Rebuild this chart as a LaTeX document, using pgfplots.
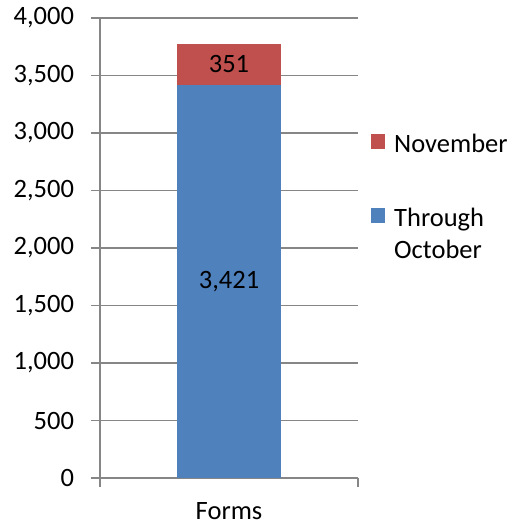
\documentclass[border=0pt]{standalone}
\usepackage{pgfplots}
\pgfplotsset{compat=1.18}
\usepackage{fontspec}
\setmainfont{Carlito}
\definecolor{cblue}{HTML}{4F81BD}
\definecolor{cred}{HTML}{C0504D}
\definecolor{cgrid}{HTML}{868686}
\newcommand{\cf}{\fontsize{26.5}{32}\selectfont}
\begin{document}
\cf
\begin{tikzpicture}
\begin{axis}[
  scale only axis,
  width=258pt, height=460pt,
  xmin=-1, xmax=1, ymin=0, ymax=4000,
  ybar stacked, bar width=103pt,
  axis x line*=bottom, axis y line*=left,
  axis line style={cgrid, line width=1.2pt, -},
  ytick={0,500,...,4000},
  xtick={-1,1}, xticklabels={},
  extra x ticks={0}, extra x tick labels={Forms},
  extra x tick style={major tick length=0pt, grid=none, xticklabel style={yshift=-15pt}},
  ymajorgrids, grid style={cgrid, line width=1.2pt},
  tick style={cgrid, line width=1.2pt},
  major tick length=9pt, tick align=outside,
  /pgf/number format/.cd, 1000 sep={,}, assume math mode=true,
  /pgfplots/.cd,
  ticklabel style={font=\cf},
  yticklabel style={xshift=-8pt},
  reverse legend,
  legend style={at={(1.0504,0.752)}, anchor=north west, draw=none, fill=none,
    font=\cf, cells={align=left, anchor=north west, inner sep=0pt},
    /tikz/every odd column/.append style={column sep=7pt},
    row sep=47pt, inner sep=0pt},
  legend image code/.code={\fill[#1] (0pt,-2pt) rectangle (14pt,-17pt);},
  nodes near coords,
  nodes near coords style={font=\cf, black, anchor=center},
]
\coordinate (O) at (rel axis cs:0,0);
\addplot[fill=cblue, draw=none] coordinates {(0,3421)};
\addplot[fill=cred, draw=none] coordinates {(0,351)};
\legend{Through\\October, November}
\end{axis}
\pgfresetboundingbox
\path ([shift={(-100pt,-49pt)}]O) rectangle ([shift={(419pt,478pt)}]O);
\end{tikzpicture}
\end{document}
